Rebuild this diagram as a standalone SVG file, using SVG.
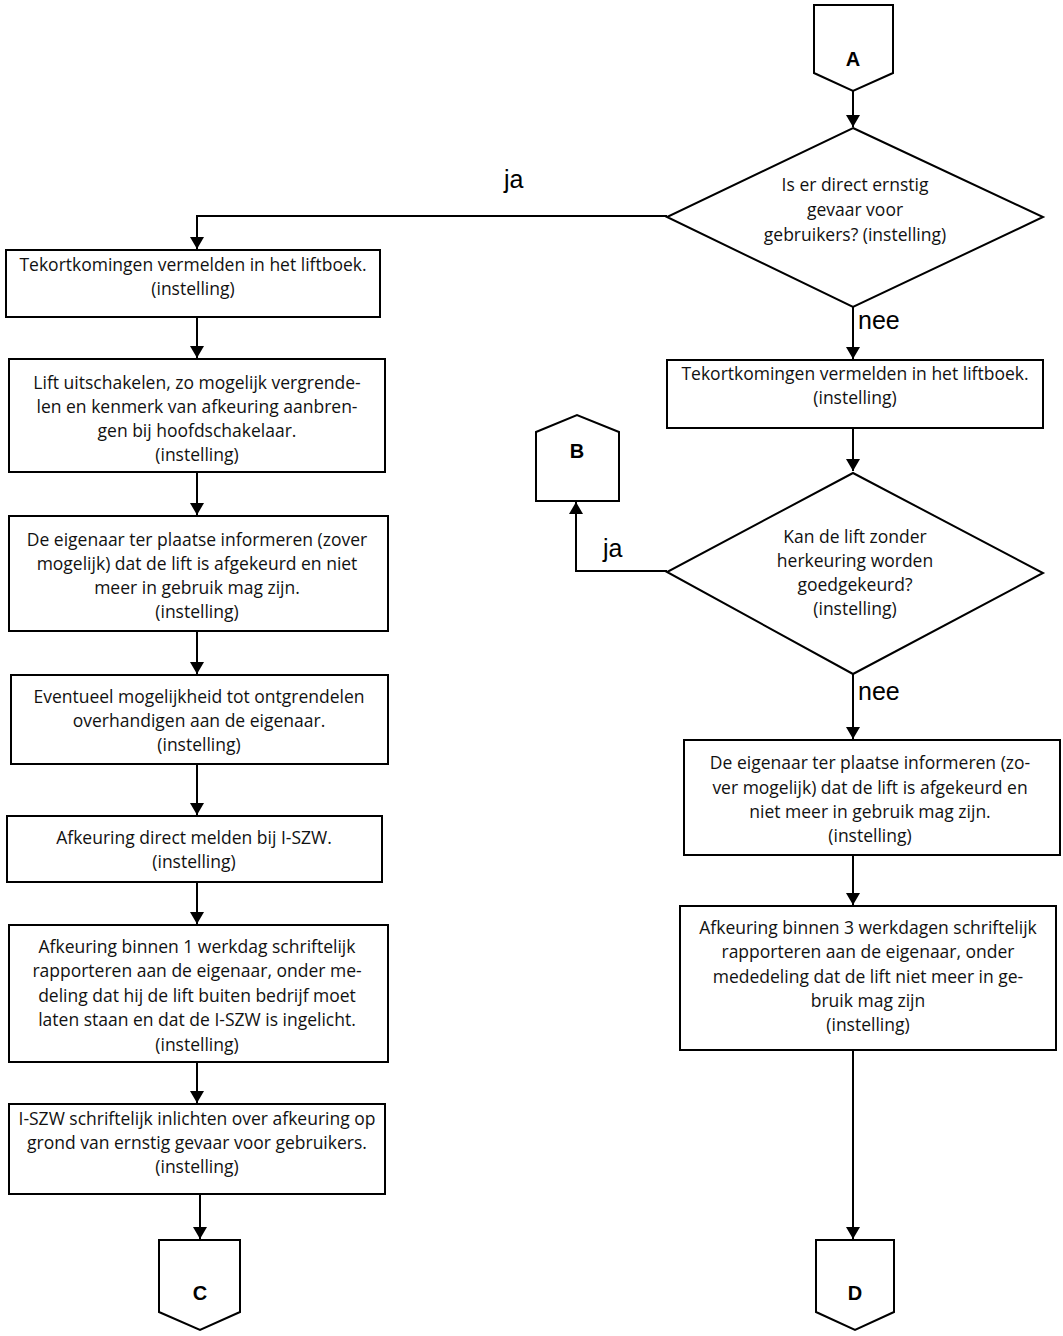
<svg xmlns="http://www.w3.org/2000/svg" width="1063" height="1336" viewBox="0 0 1063 1336">
<style>
.box{fill:#fff;stroke:#000;stroke-width:2}
.t{font-family:"Open Sans","Liberation Sans",Arial,sans-serif;font-size:17.5px;fill:#111;text-anchor:middle}
.lbl{font-family:"Liberation Sans",Arial,sans-serif;font-size:25px;fill:#000}
.big{font-family:"Liberation Sans",Arial,sans-serif;font-size:20px;font-weight:bold;fill:#000;text-anchor:middle}
.c{fill:none;stroke:#000;stroke-width:2;marker-end:url(#ah)}
</style>
<defs>
<marker id="ah" viewBox="0 0 12 14" refX="12" refY="7" markerWidth="12" markerHeight="14" markerUnits="userSpaceOnUse" orient="auto">
<path d="M0,0 L12,7 L0,14 Z" fill="#000"/>
</marker>
</defs>
<rect width="1063" height="1336" fill="#fff"/>
<g id="connectors">
<path class="c" d="M853,91 V127"/>
<path class="c" d="M667,216 H197 V249"/>
<path class="c" d="M197,317 V358"/>
<path class="c" d="M197,472 V515"/>
<path class="c" d="M197,631 V674"/>
<path class="c" d="M197,764 V815"/>
<path class="c" d="M197,882 V924"/>
<path class="c" d="M197,1062 V1103"/>
<path class="c" d="M200,1194 V1239"/>
<path class="c" d="M853,307 V359"/>
<path class="c" d="M853,428 V471"/>
<path class="c" d="M667,571 H576 V502"/>
<path class="c" d="M853,674 V739"/>
<path class="c" d="M853,855 V905"/>
<path class="c" d="M853,1050 V1239"/>
<text class="lbl" x="504" y="188">ja</text>
<text class="lbl" x="858" y="329">nee</text>
<text class="lbl" x="603" y="557">ja</text>
<text class="lbl" x="858" y="700">nee</text>
</g>
<g id="nodeA">
<path class="box" d="M814,5 H893 V73 L853,91 L814,73 Z"/>
<text class="big" x="853" y="66">A</text>
</g>
<g id="decision1">
<path class="box" d="M853,128 L1043,217 L853,307 L667,217 Z"/>
<text class="t" x="855" y="191">Is er direct ernstig</text>
<text class="t" x="855" y="216">gevaar voor</text>
<text class="t" x="855" y="241">gebruikers? (instelling)</text>
</g>
<g id="left1">
<rect class="box" x="6" y="250" width="374" height="67"/>
<text class="t" x="193" y="271">Tekortkomingen vermelden in het liftboek.</text>
<text class="t" x="193" y="295">(instelling)</text>
</g>
<g id="left2">
<rect class="box" x="9" y="359" width="376" height="113"/>
<text class="t" x="197" y="389">Lift uitschakelen, zo mogelijk vergrende-</text>
<text class="t" x="197" y="413">len en kenmerk van afkeuring aanbren-</text>
<text class="t" x="197" y="437">gen bij hoofdschakelaar.</text>
<text class="t" x="197" y="461">(instelling)</text>
</g>
<g id="left3">
<rect class="box" x="9" y="516" width="379" height="115"/>
<text class="t" x="197" y="546">De eigenaar ter plaatse informeren (zover</text>
<text class="t" x="197" y="570">mogelijk) dat de lift is afgekeurd en niet</text>
<text class="t" x="197" y="594">meer in gebruik mag zijn.</text>
<text class="t" x="197" y="618">(instelling)</text>
</g>
<g id="left4">
<rect class="box" x="11" y="675" width="377" height="89"/>
<text class="t" x="199" y="703">Eventueel mogelijkheid tot ontgrendelen</text>
<text class="t" x="199" y="727">overhandigen aan de eigenaar.</text>
<text class="t" x="199" y="751">(instelling)</text>
</g>
<g id="left5">
<rect class="box" x="7" y="816" width="375" height="66"/>
<text class="t" x="194" y="844">Afkeuring direct melden bij I-SZW.</text>
<text class="t" x="194" y="868">(instelling)</text>
</g>
<g id="left6">
<rect class="box" x="9" y="925" width="379" height="137"/>
<text class="t" x="197" y="953">Afkeuring binnen 1 werkdag schriftelijk</text>
<text class="t" x="197" y="977">rapporteren aan de eigenaar, onder me-</text>
<text class="t" x="197" y="1002">deling dat hij de lift buiten bedrijf moet</text>
<text class="t" x="197" y="1026">laten staan en dat de I-SZW is ingelicht.</text>
<text class="t" x="197" y="1051">(instelling)</text>
</g>
<g id="left7">
<rect class="box" x="9" y="1104" width="376" height="90"/>
<text class="t" x="197" y="1125">I-SZW schriftelijk inlichten over afkeuring op</text>
<text class="t" x="197" y="1149">grond van ernstig gevaar voor gebruikers.</text>
<text class="t" x="197" y="1173">(instelling)</text>
</g>
<g id="nodeC">
<path class="box" d="M159,1240 H240 V1312 L200,1330 L159,1312 Z"/>
<text class="big" x="200" y="1300">C</text>
</g>
<g id="right1">
<rect class="box" x="667" y="360" width="376" height="68"/>
<text class="t" x="855" y="380">Tekortkomingen vermelden in het liftboek.</text>
<text class="t" x="855" y="404">(instelling)</text>
</g>
<g id="nodeB">
<path class="box" d="M536,501 V432 L577,415 L619,432 V501 Z"/>
<text class="big" x="577" y="458">B</text>
</g>
<g id="decision2">
<path class="box" d="M853,473 L1043,573 L853,674 L667,572 Z"/>
<text class="t" x="855" y="543">Kan de lift zonder</text>
<text class="t" x="855" y="567">herkeuring worden</text>
<text class="t" x="855" y="591">goedgekeurd?</text>
<text class="t" x="855" y="615">(instelling)</text>
</g>
<g id="right2">
<rect class="box" x="684" y="740" width="376" height="115"/>
<text class="t" x="870" y="769">De eigenaar ter plaatse informeren (zo-</text>
<text class="t" x="870" y="794">ver mogelijk) dat de lift is afgekeurd en</text>
<text class="t" x="870" y="818">niet meer in gebruik mag zijn.</text>
<text class="t" x="870" y="842">(instelling)</text>
</g>
<g id="right3">
<rect class="box" x="680" y="906" width="376" height="144"/>
<text class="t" x="868" y="934">Afkeuring binnen 3 werkdagen schriftelijk</text>
<text class="t" x="868" y="958">rapporteren aan de eigenaar, onder</text>
<text class="t" x="868" y="983">mededeling dat de lift niet meer in ge-</text>
<text class="t" x="868" y="1007">bruik mag zijn</text>
<text class="t" x="868" y="1031">(instelling)</text>
</g>
<g id="nodeD">
<path class="box" d="M816,1240 H894 V1312 L855,1330 L816,1312 Z"/>
<text class="big" x="855" y="1300">D</text>
</g>
</svg>
